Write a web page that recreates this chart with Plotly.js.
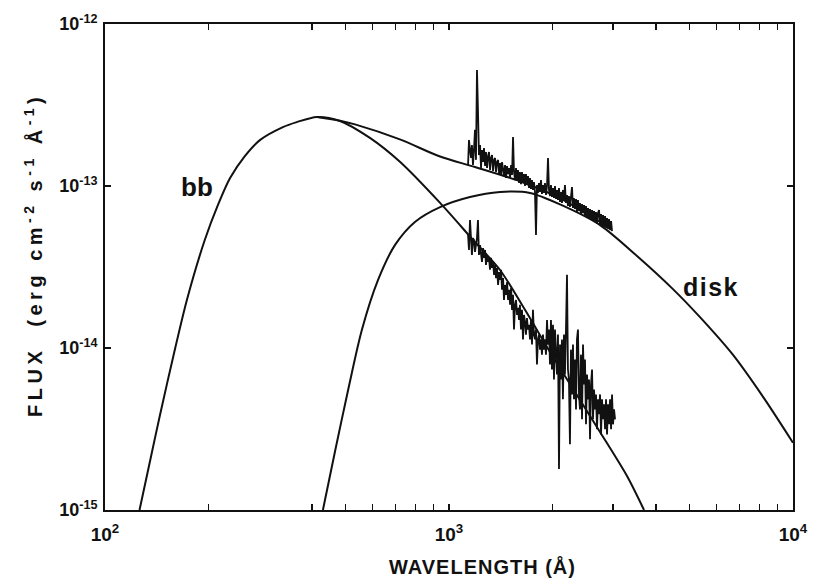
<!DOCTYPE html>
<html>
<head>
<meta charset="utf-8">
<script src="https://cdn.plot.ly/plotly-3.0.1.min.js"></script>
<style>
html,body{margin:0;padding:0;background:#fff;}
#chart{width:818px;height:580px;}
</style>
</head>
<body>
<div id="chart"></div>
<script>
// Blackbody model (bb)
const bbWave = [126, 135, 144.5, 160, 173, 195, 213, 231, 255, 282, 329, 361, 413, 482, 589, 720, 942, 1175, 1407, 1663, 1966, 2324, 2748, 3292, 3689];
const bbFlux = [1.0e-15, 1.98e-15, 3.86e-15, 1.0e-14, 1.98e-14, 4.64e-14, 7.64e-14, 1.12e-13, 1.53e-13, 1.92e-13, 2.31e-13, 2.48e-13, 2.67e-13, 2.52e-13, 1.98e-13, 1.41e-13, 7.86e-14, 4.64e-14, 3.03e-14, 1.72e-14, 9.45e-15, 5.35e-15, 3.03e-15, 1.62e-15, 1.0e-15];

// Disk model
const diskWave = [430, 467, 509, 558, 622, 697, 796, 942, 1151, 1407, 1720, 2103, 2749, 3520, 4478, 5366, 6694, 8185, 10000];
const diskFlux = [1.0e-15, 2.34e-15, 5.5e-15, 1.29e-14, 2.63e-14, 4.33e-14, 6.0e-14, 7.41e-14, 8.55e-14, 9.18e-14, 9.06e-14, 7.7e-14, 5.74e-14, 3.7e-14, 2.31e-14, 1.55e-14, 9.06e-15, 4.99e-15, 2.6e-15];

// Sum of bb + disk
const sumWave = [413, 482, 533, 720, 942, 1190, 1607, 2103, 2749];
const sumFlux = [2.67e-13, 2.53e-13, 2.4e-13, 1.94e-13, 1.52e-13, 1.31e-13, 1.07e-13, 8.4e-14, 6.0e-14];

// Observed spectrum (upper)
const obsWave = [1136,1143,1151,1159,1166,1174,1182,1190,1198,1206,1214,1222,1231,1239,1247,1256,1264,1273,1281,1290,1299,1307,1316,1325,1334,1343,1352,1361,1370,1379,1389,1398,1407,1417,1426,1436,1445,1455,1465,1475,1485,1495,1505,1515,1525,1535,1545,1556,1566,1577,1587,1598,1608,1619,1630,1641,1652,1663,1674,1685,1697,1708,1720,1731,1743,1754,1766,1778,1790,1802,1814,1826,1839,1851,1863,1876,1888,1901,1914,1927,1940,1953,1966,1979,1992,2006,2019,2033,2046,2060,2074,2088,2102,2116,2130,2144,2159,2173,2188,2203,2217,2232,2247,2262,2278,2293,2308,2324,2340,2355,2371,2387,2403,2419,2436,2452,2469,2485,2502,2519,2536,2553,2570,2587,2605,2622,2640,2657,2675,2693,2711,2730,2748,2767,2785,2804,2823,2842,2861,2880,2900,2919,2939,2959,2978];
const obsFlux = [1.35e-13,1.92e-13,1.67e-13,1.49e-13,1.79e-13,1.35e-13,1.67e-13,2.22e-13,1.45e-13,5.2e-13,2.94e-13,1.553e-13,1.79e-13,1.291e-13,1.668e-13,1.406e-13,1.715e-13,1.328e-13,1.621e-13,1.291e-13,1.531e-13,1.621e-13,1.255e-13,1.489e-13,1.553e-13,1.237e-13,1.447e-13,1.489e-13,1.22e-13,1.406e-13,1.447e-13,1.186e-13,1.387e-13,1.169e-13,1.406e-13,1.291e-13,1.152e-13,1.347e-13,1.12e-13,1.328e-13,1.186e-13,1.291e-13,1.12e-13,1.347e-13,1.169e-13,2.007e-13,1.22e-13,1.088e-13,1.291e-13,1.073e-13,1.255e-13,1.043e-13,1.22e-13,1.028e-13,1.22e-13,1.058e-13,1.186e-13,1.0e-13,1.186e-13,1.014e-13,1.152e-13,9.716e-14,1.12e-13,9.58e-14,1.088e-13,9.447e-14,1.058e-13,9.182e-14,4.98e-14,1.014e-13,9.053e-14,1.043e-13,9.182e-14,1.088e-13,8.925e-14,1.014e-13,9.053e-14,1.043e-13,8.799e-14,1.0e-13,1.489e-13,9.447e-14,8.675e-14,1.014e-13,8.553e-14,9.716e-14,8.432e-14,1.0e-13,8.313e-14,9.447e-14,8.194e-14,9.716e-14,7.964e-14,9.182e-14,7.852e-14,9.447e-14,8.078e-14,1.014e-13,7.852e-14,8.799e-14,7.524e-14,8.675e-14,7.418e-14,8.553e-14,9.855e-14,7.313e-14,8.432e-14,7.21e-14,8.313e-14,6.908e-14,8.194e-14,7.007e-14,7.852e-14,6.714e-14,7.741e-14,6.81e-14,7.632e-14,6.526e-14,7.524e-14,6.434e-14,7.313e-14,6.253e-14,7.21e-14,6.165e-14,7.107e-14,6.078e-14,7.007e-14,5.992e-14,6.908e-14,5.824e-14,6.81e-14,7.107e-14,5.741e-14,6.714e-14,5.66e-14,6.619e-14,5.58e-14,6.526e-14,5.501e-14,6.343e-14,5.424e-14,6.253e-14,5.347e-14,6.078e-14,5.272e-14];

// Residual spectrum after disk subtraction (lower)
const resWave = [1136,1143,1151,1159,1166,1174,1182,1190,1198,1206,1214,1222,1231,1239,1247,1256,1264,1273,1281,1290,1299,1307,1316,1325,1334,1343,1352,1361,1370,1379,1389,1398,1407,1417,1426,1436,1445,1455,1465,1475,1485,1495,1505,1515,1525,1535,1545,1556,1566,1577,1587,1598,1608,1619,1630,1641,1652,1663,1674,1685,1697,1708,1720,1731,1743,1754,1766,1778,1790,1802,1814,1826,1839,1851,1863,1876,1888,1901,1914,1927,1940,1953,1966,1979,1992,2006,2019,2033,2046,2060,2074,2088,2102,2116,2130,2144,2159,2173,2188,2203,2217,2232,2247,2262,2278,2293,2308,2324,2340,2355,2371,2387,2403,2419,2436,2452,2469,2485,2502,2519,2536,2553,2570,2587,2605,2622,2640,2657,2675,2693,2711,2730,2748,2767,2785,2804,2823,2842,2861,2880,2900,2919,2939,2959,2978,2998,3018,3039];
const resFlux = [4.98e-14,4.03e-14,6.17e-14,4.32e-14,3.75e-14,4.77e-14,4.64e-14,3.92e-14,4.32e-14,4.77e-14,6.17e-14,3.75e-14,4.32e-14,3.92e-14,3.4e-14,4.14e-14,3.6e-14,4.03e-14,3.26e-14,3.75e-14,3.4e-14,3.6e-14,3.04e-14,3.6e-14,3.12e-14,3.4e-14,2.83e-14,3.26e-14,2.7e-14,3.12e-14,2.45e-14,2.94e-14,2.63e-14,3.04e-14,2.29e-14,2.7e-14,1.98e-14,2.45e-14,2.13e-14,2.55e-14,1.98e-14,2.29e-14,1.85e-14,2.35e-14,1.72e-14,2.13e-14,1.3e-14,1.85e-14,1.98e-14,1.6e-14,1.77e-14,1.49e-14,1.85e-14,1.3e-14,1.72e-14,1.13e-14,1.6e-14,1.45e-14,1.21e-14,1.53e-14,1.3e-14,1.39e-14,1.13e-14,1.49e-14,1.05e-14,1.72e-14,1.21e-14,1.13e-14,1.3e-14,7.9e-15,1.13e-14,1.21e-14,9.77e-15,1.13e-14,9.1e-15,1.21e-14,9.77e-15,1.13e-14,9.1e-15,1.49e-14,1.05e-14,1.3e-14,7.9e-15,1.49e-14,7.36e-15,1.39e-14,6.39e-15,1.3e-14,8.48e-15,6.86e-15,1.21e-14,1.79e-15,1.05e-14,6.39e-15,1.13e-14,4.82e-15,1.21e-14,6.86e-15,1.3e-14,2.83e-14,7.36e-15,6.39e-15,2.55e-15,9.77e-15,5.17e-15,1.05e-14,4.82e-15,8.48e-15,4.18e-15,1.13e-14,1.3e-14,5.17e-15,4.18e-15,9.1e-15,3.63e-15,1.05e-14,5.95e-15,8.48e-15,3.38e-15,6.86e-15,4.82e-15,6.39e-15,2.73e-15,5.95e-15,7.36e-15,3.63e-15,5.55e-15,4.18e-15,5.17e-15,3.15e-15,4.82e-15,3.9e-15,5.17e-15,2.93e-15,4.82e-15,3.63e-15,4.49e-15,3.15e-15,4.82e-15,2.93e-15,4.49e-15,3.38e-15,4.82e-15,3.15e-15,5.17e-15,3.38e-15,4.18e-15,3.63e-15];

// Axis ticks
const xTickVals = [100, 200, 400, 500, 600, 700, 800, 900, 1000, 2000, 3000, 4000, 5000, 6000, 7000, 8000, 9000, 10000];
const xTickText = ['10<sup>2</sup>', '', '', '', '', '', '', '', '10<sup>3</sup>', '', '', '', '', '', '', '', '', '10<sup>4</sup>'];
const yTickVals = [1e-15, 1e-14, 1e-13, 1e-12];
const yTickText = ['10<sup>-15</sup>', '10<sup>-14</sup>', '10<sup>-13</sup>', '10<sup>-12</sup>'];

const FONT = 'Liberation Sans, Arial, Helvetica, sans-serif';
const curve = {color: '#111', width: 2, shape: 'spline', smoothing: 0.8};
const noisy = {color: '#111', width: 1.8};

const traces = [
  {x: bbWave, y: bbFlux, mode: 'lines', line: curve, hoverinfo: 'skip'},
  {x: diskWave, y: diskFlux, mode: 'lines', line: curve, hoverinfo: 'skip'},
  {x: sumWave, y: sumFlux, mode: 'lines', line: curve, hoverinfo: 'skip'},
  {x: obsWave, y: obsFlux, mode: 'lines', line: noisy, hoverinfo: 'skip'},
  {x: resWave, y: resFlux, mode: 'lines', line: noisy, hoverinfo: 'skip'}
];

const NB = '\u00a0';
const layout = {
  width: 818, height: 580,
  margin: {l: 105, r: 25, t: 24, b: 70, pad: 0},
  paper_bgcolor: '#ffffff', plot_bgcolor: '#ffffff',
  showlegend: false,
  font: {family: FONT, color: '#111'},
  xaxis: {
    type: 'log', range: [2, 4],
    showgrid: false, zeroline: false,
    showline: true, linecolor: '#111', linewidth: 2, mirror: 'ticks',
    ticks: 'inside', ticklen: 6, tickwidth: 1.5, tickcolor: '#111',
    tickmode: 'array', tickvals: xTickVals, ticktext: xTickText,
    tickfont: {family: FONT, size: 19, color: '#111', weight: 'bold'},
    ticklabelstandoff: 6
  },
  yaxis: {
    type: 'log', range: [-15, -12],
    showgrid: false, zeroline: false,
    showline: true, linecolor: '#111', linewidth: 2, mirror: 'ticks',
    ticks: 'inside', ticklen: 6, tickwidth: 1.5, tickcolor: '#111',
    tickmode: 'array', tickvals: yTickVals, ticktext: yTickText,
    tickfont: {family: FONT, size: 18, color: '#111', weight: 'bold'},
    ticklabelstandoff: 2
  },
  annotations: [
    {xref: 'paper', yref: 'paper', x: (197-105)/688, y: (510-187)/486, text: 'bb', showarrow: false,
     font: {family: FONT, size: 26, color: '#111', weight: 'bold'}, xanchor: 'center', yanchor: 'middle'},
    {xref: 'paper', yref: 'paper', x: (711-105)/688, y: (510-287)/486, text: 'disk', showarrow: false,
     font: {family: FONT, size: 25, color: '#111', weight: 'bold'}, xanchor: 'center', yanchor: 'middle'},
    {xref: 'paper', yref: 'paper', x: (482-105)/688, y: (510-566)/486, text: 'WAVELENGTH (Å)', showarrow: false,
     font: {family: FONT, size: 20, color: '#111', weight: 'bold'}, xanchor: 'center', yanchor: 'middle'},
    {xref: 'paper', yref: 'paper', x: (33-105)/688, y: (510-255)/486,
     text: 'FLUX' + NB + NB + '(erg' + NB + 'cm<sup>-2</sup>' + NB + 's<sup>-1</sup>' + NB + 'Å<sup>-1</sup>)', showarrow: false,
     textangle: -90, font: {family: FONT, size: 20, color: '#111', weight: 'bold'}, xanchor: 'center', yanchor: 'middle'}
  ]
};

Plotly.newPlot('chart', traces, layout, {staticPlot: true, displayModeBar: false}).then(function () {
  document.querySelectorAll('#chart .annotation-text').forEach(function (t) {
    const s = t.textContent;
    if (s.indexOf('FLUX') === 0) t.style.letterSpacing = '4.5px';
    else if (s.indexOf('WAVELENGTH') === 0) t.style.letterSpacing = '1px';
    else if (s === 'disk') t.style.letterSpacing = '1.5px';
  });
});
</script>
</body>
</html>
